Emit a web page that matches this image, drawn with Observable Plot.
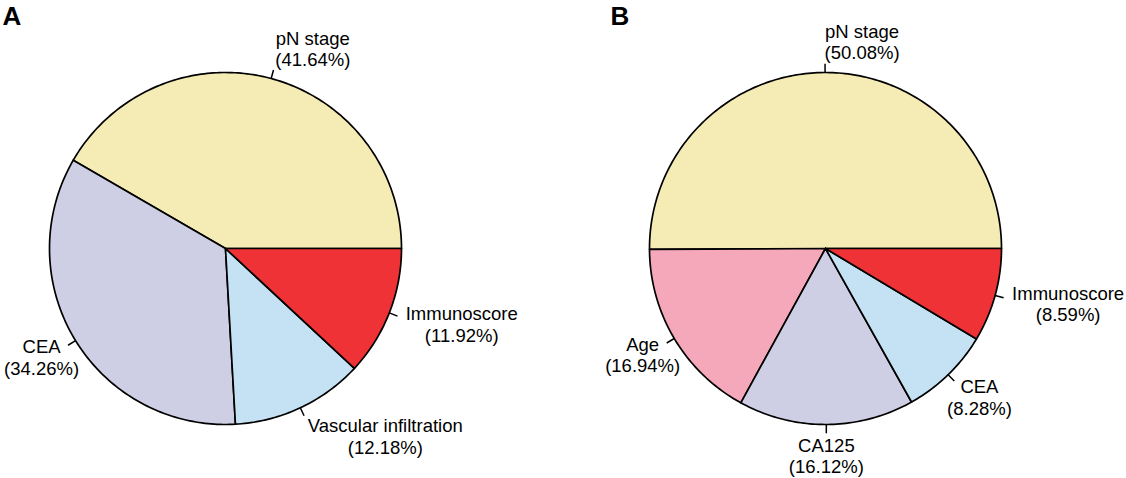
<!DOCTYPE html>
<html>
<head>
<meta charset="utf-8">
<script src="https://cdn.jsdelivr.net/npm/d3@7"></script>
<script src="https://cdn.jsdelivr.net/npm/@observablehq/plot@0.6"></script>
<style>
  html, body { margin: 0; padding: 0; background: #fff; }
  #chart svg { display: block; }
</style>
</head>
<body>
<div id="chart"></div>
<script>
// ---------- data ----------
const panels = ["A", "B"];

const labelsA = ["pN stage", "CEA", "Vascular infiltration", "Immunoscore"];
const valuesA = [41.64, 34.26, 12.18, 11.92];
const colorsA = ["#F5EBB4", "#CECFE4", "#C5E2F4", "#EF3236"];

const labelsB = ["pN stage", "Age", "CA125", "CEA", "Immunoscore"];
const valuesB = [50.08, 16.94, 16.12, 8.28, 8.59];
const colorsB = ["#F5EBB4", "#F5A8BA", "#CECFE4", "#C5E2F4", "#EF3236"];

// label horizontal alignment of the first line (style config)
const alignA = ["start", "end", "start", "start"];
const alignB = ["start", "end", "middle", "start", "start"];

// ---------- layout ----------
const W = 1126, H = 478;
const marginTop = 18, marginBottom = 0, marginLeft = 0, marginRight = 76;
const facetPadding = 0.25;
const RPX = 176;               // pie radius in pixels
const fontSize = 18.5, lineHeight = 1.16;
const fontFamily = "'Liberation Sans', Arial, Helvetica, sans-serif";
const labelVShift = 13.5;      // px, pushes label blocks away from the pie vertically

const step = (W - marginLeft - marginRight) / (panels.length - facetPadding);
const bandwidth = step * (1 - facetPadding);
const xHalf = bandwidth / 2 / RPX;
const yHalf = (H - marginTop - marginBottom) / 2 / RPX;

// text measurement
const ctx = document.createElement("canvas").getContext("2d");
ctx.font = `${fontSize}px ${fontFamily}`;
const textWidth = s => ctx.measureText(s).width;

// ---------- build geometry from the values ----------
const slicePts = [];
const ticks = [];
const labelRows = [];

function buildPanel(panel, labels, values, colors, aligns) {
  const total = d3.sum(values);
  let cum = 0;
  labels.forEach((name, i) => {
    const a0 = cum / total * 2 * Math.PI;
    cum += values[i];
    const a1 = cum / total * 2 * Math.PI;
    const key = panel + "-" + i;
    const n = Math.max(2, Math.ceil((a1 - a0) / (Math.PI / 180)));
    slicePts.push({panel, key, color: colors[i], x: 0, y: 0});
    for (let k = 0; k <= n; k++) {
      const a = a0 + (a1 - a0) * k / n;
      slicePts.push({panel, key, color: colors[i], x: Math.cos(a), y: Math.sin(a)});
    }
    slicePts.push({panel, key, color: colors[i], x: 0, y: 0});

    const am = (a0 + a1) / 2;
    const c = Math.cos(am), s = Math.sin(am);
    ticks.push({panel, x1: c, y1: s, x2: 1.05 * c, y2: 1.05 * s});

    const line1 = name;
    const line2 = `(${values[i].toFixed(2)}%)`;
    const w1 = textWidth(line1);
    const al = aligns[i];
    const offPx = al === "start" ? w1 / 2 : al === "end" ? -w1 / 2 : 0;
    labelRows.push({
      panel,
      text: line1 + "\n" + line2,
      x: 1.1 * c + offPx / RPX,
      y: 1.1 * s + (labelVShift / RPX) * s
    });
  });
}
buildPanel("A", labelsA, valuesA, colorsA, alignA);
buildPanel("B", labelsB, valuesB, colorsB, alignB);

// ---------- plot ----------
const chart = Plot.plot({
  width: W,
  height: H,
  marginTop, marginBottom, marginLeft, marginRight,
  style: {background: "#fff", color: "#000", fontFamily},
  fx: {domain: panels, paddingInner: facetPadding, paddingOuter: 0, axis: null, label: null},
  x: {domain: [-xHalf, xHalf], axis: null},
  y: {domain: [-yHalf, yHalf], axis: null},
  color: {type: "identity"},
  marks: [
    Plot.line(slicePts, {
      fx: "panel", x: "x", y: "y", z: "key",
      fill: "color", stroke: "#000", strokeWidth: 1.7,
      strokeLinejoin: "round", curve: "linear"
    }),
    Plot.link(ticks, {
      fx: "panel", x1: "x1", y1: "y1", x2: "x2", y2: "y2",
      stroke: "#000", strokeWidth: 1.5
    }),
    Plot.text(labelRows, {
      fx: "panel", x: "x", y: "y", text: "text",
      textAnchor: "middle", lineAnchor: "middle", lineHeight,
      fontSize, fontFamily, fill: "#000"
    }),
    Plot.text([{panel: "A", letter: "A"}], {
      fx: "panel", text: "letter", frameAnchor: "top-left",
      textAnchor: "start", lineAnchor: "top", dx: 2, dy: -12,
      fontSize: 26, fontWeight: "bold", fontFamily, fill: "#000"
    }),
    Plot.text([{panel: "B", letter: "B"}], {
      fx: "panel", text: "letter", frameAnchor: "top-left",
      textAnchor: "start", lineAnchor: "top", dx: 10, dy: -12,
      fontSize: 26, fontWeight: "bold", fontFamily, fill: "#000"
    })
  ]
});
document.getElementById("chart").appendChild(chart);
</script>
</body>
</html>
